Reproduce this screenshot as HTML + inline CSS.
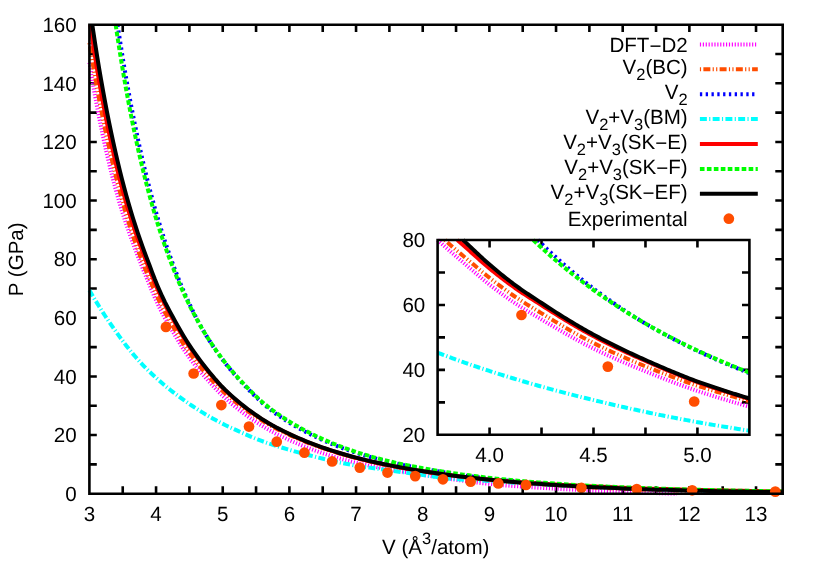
<!DOCTYPE html>
<html><head><meta charset="utf-8"><title>P-V equation of state</title>
<style>html,body{margin:0;padding:0;background:#fff}svg{display:block;will-change:transform}</style>
</head><body>
<svg width="830" height="581" viewBox="0 0 830 581" font-family="'Liberation Sans', sans-serif" font-size="20.55" fill="#000" text-rendering="geometricPrecision">
<rect width="830" height="581" fill="#fff"/>
<path d="M122.73,493.70 v-7.40 M122.73,24.70 v7.40 M156.06,493.70 v-7.40 M156.06,24.70 v7.40 M189.40,493.70 v-7.40 M189.40,24.70 v7.40 M222.73,493.70 v-7.40 M222.73,24.70 v7.40 M256.06,493.70 v-7.40 M256.06,24.70 v7.40 M289.39,493.70 v-7.40 M289.39,24.70 v7.40 M322.72,493.70 v-7.40 M322.72,24.70 v7.40 M356.05,493.70 v-7.40 M356.05,24.70 v7.40 M389.39,493.70 v-7.40 M389.39,24.70 v7.40 M422.72,493.70 v-7.40 M422.72,24.70 v7.40 M456.05,493.70 v-7.40 M456.05,24.70 v7.40 M489.38,493.70 v-7.40 M489.38,24.70 v7.40 M522.71,493.70 v-7.40 M522.71,24.70 v7.40 M556.04,493.70 v-7.40 M556.04,24.70 v7.40 M589.38,493.70 v-7.40 M589.38,24.70 v7.40 M622.71,493.70 v-7.40 M622.71,24.70 v7.40 M656.04,493.70 v-7.40 M656.04,24.70 v7.40 M689.37,493.70 v-7.40 M689.37,24.70 v7.40 M722.70,493.70 v-7.40 M722.70,24.70 v7.40 M756.03,493.70 v-7.40 M756.03,24.70 v7.40 M89.40,464.39 h7.40 M782.70,464.39 h-7.40 M89.40,435.07 h7.40 M782.70,435.07 h-7.40 M89.40,405.76 h7.40 M782.70,405.76 h-7.40 M89.40,376.45 h7.40 M782.70,376.45 h-7.40 M89.40,347.14 h7.40 M782.70,347.14 h-7.40 M89.40,317.82 h7.40 M782.70,317.82 h-7.40 M89.40,288.51 h7.40 M782.70,288.51 h-7.40 M89.40,259.20 h7.40 M782.70,259.20 h-7.40 M89.40,229.89 h7.40 M782.70,229.89 h-7.40 M89.40,200.57 h7.40 M782.70,200.57 h-7.40 M89.40,171.26 h7.40 M782.70,171.26 h-7.40 M89.40,141.95 h7.40 M782.70,141.95 h-7.40 M89.40,112.64 h7.40 M782.70,112.64 h-7.40 M89.40,83.32 h7.40 M782.70,83.32 h-7.40 M89.40,54.01 h7.40 M782.70,54.01 h-7.40 " stroke="#000" stroke-width="2.60" fill="none"/>
<text x="89.40" y="521.20" text-anchor="middle">3</text>
<text x="156.06" y="521.20" text-anchor="middle">4</text>
<text x="222.73" y="521.20" text-anchor="middle">5</text>
<text x="289.39" y="521.20" text-anchor="middle">6</text>
<text x="356.05" y="521.20" text-anchor="middle">7</text>
<text x="422.72" y="521.20" text-anchor="middle">8</text>
<text x="489.38" y="521.20" text-anchor="middle">9</text>
<text x="556.04" y="521.20" text-anchor="middle">10</text>
<text x="622.71" y="521.20" text-anchor="middle">11</text>
<text x="689.37" y="521.20" text-anchor="middle">12</text>
<text x="756.03" y="521.20" text-anchor="middle">13</text>
<text x="76.70" y="500.90" text-anchor="end">0</text>
<text x="76.70" y="442.27" text-anchor="end">20</text>
<text x="76.70" y="383.65" text-anchor="end">40</text>
<text x="76.70" y="325.02" text-anchor="end">60</text>
<text x="76.70" y="266.40" text-anchor="end">80</text>
<text x="76.70" y="207.77" text-anchor="end">100</text>
<text x="76.70" y="149.15" text-anchor="end">120</text>
<text x="76.70" y="90.52" text-anchor="end">140</text>
<text x="76.70" y="31.90" text-anchor="end">160</text>
<text transform="translate(23.3,259.3) rotate(-90)" text-anchor="middle">P (GPa)</text>
<text x="435.8" y="554" text-anchor="middle">V (Å<tspan font-size="16.44" dy="-10.2">3</tspan><tspan dy="10.2">/atom)</tspan></text>
<path d="M89.40,62.61 L91.29,74.23 L93.20,85.47 L95.13,96.36 L97.07,106.90 L99.04,117.11 L101.02,127.00 L103.02,136.60 L105.04,145.90 L107.08,154.92 L109.14,163.67 L111.22,172.16 L113.31,180.41 L115.43,188.41 L117.57,196.12 L119.73,203.58 L121.91,210.80 L124.10,217.79 L126.32,224.53 L128.56,231.06 L130.83,237.42 L133.11,243.66 L135.41,249.81 L137.74,255.89 L140.09,261.88 L142.46,267.85 L144.85,273.74 L147.27,279.55 L149.71,285.38 L152.17,291.36 L154.65,297.22 L157.16,302.73 L159.70,308.05 L162.25,313.18 L164.83,318.06 L167.44,322.64 L170.07,327.07 L172.72,331.52 L175.40,336.05 L178.10,340.53 L180.83,344.94 L183.59,349.25 L186.37,353.42 L189.18,357.43 L192.02,361.26 L194.88,364.96 L197.77,368.55 L200.68,372.04 L203.63,375.46 L206.60,378.83 L209.60,382.19 L212.63,385.51 L215.68,388.78 L218.77,391.96 L221.88,395.03 L225.03,397.94 L228.20,400.75 L231.41,403.49 L234.64,406.18 L237.91,408.82 L241.20,411.41 L244.53,413.93 L247.89,416.38 L251.28,418.77 L254.70,421.09 L258.15,423.36 L261.64,425.56 L265.16,427.70 L268.72,429.78 L272.30,431.78 L275.92,433.68 L279.58,435.50 L283.27,437.26 L286.99,438.99 L290.75,440.70 L294.55,442.38 L298.38,444.01 L302.25,445.61 L306.15,447.16 L310.09,448.67 L314.07,450.14 L318.09,451.57 L322.14,452.97 L326.24,454.32 L330.37,455.64 L334.54,456.92 L338.75,458.16 L343.00,459.36 L347.29,460.53 L351.62,461.66 L355.99,462.75 L360.40,463.80 L364.85,464.79 L369.35,465.74 L373.89,466.65 L378.47,467.52 L383.10,468.36 L387.77,469.18 L392.48,469.98 L397.24,470.76 L402.04,471.54 L406.89,472.31 L411.78,473.09 L416.72,473.87 L421.71,474.67 L426.74,475.47 L431.82,476.26 L436.95,477.04 L442.13,477.81 L447.36,478.55 L452.64,479.28 L457.96,480.00 L463.34,480.73 L468.77,481.46 L474.25,482.18 L479.78,482.88 L485.36,483.52 L491.00,484.11 L496.69,484.64 L502.43,485.14 L508.23,485.61 L514.08,486.05 L519.99,486.47 L525.95,486.87 L531.97,487.26 L538.05,487.63 L544.18,488.00 L550.37,488.37 L556.63,488.75 L562.94,489.11 L569.31,489.47 L575.74,489.81 L582.23,490.14 L588.78,490.46 L595.39,490.77 L602.07,491.07 L608.81,491.36 L615.61,491.64 L622.48,491.92 L629.41,492.19 L636.41,492.45 L643.48,492.69 L650.61,492.93 L657.81,493.16 L665.07,493.37 L672.41,493.58 L676.77,493.70" stroke="#ff00ff" stroke-width="4.00" fill="none" stroke-dasharray="1.16,1.74"/>
<path d="M89.40,42.99 L91.29,54.76 L93.20,66.22 L95.13,77.38 L97.07,88.25 L99.04,98.84 L101.02,109.16 L103.02,119.22 L105.04,129.03 L107.08,138.59 L109.14,147.92 L111.22,157.02 L113.31,165.89 L115.43,174.55 L117.57,183.00 L119.73,191.26 L121.91,199.34 L124.10,207.22 L126.32,214.83 L128.56,222.20 L130.83,229.33 L133.11,236.26 L135.41,242.99 L137.74,249.53 L140.09,255.84 L142.46,261.99 L144.85,267.93 L147.27,273.67 L149.71,279.38 L152.17,285.25 L154.65,291.06 L157.16,296.61 L159.70,302.01 L162.25,307.23 L164.83,312.21 L167.44,316.90 L170.07,321.44 L172.72,325.99 L175.40,330.61 L178.10,335.19 L180.83,339.69 L183.59,344.09 L186.37,348.35 L189.18,352.45 L192.02,356.38 L194.88,360.17 L197.77,363.85 L200.68,367.42 L203.63,370.90 L206.60,374.29 L209.60,377.65 L212.63,380.95 L215.68,384.19 L218.77,387.33 L221.88,390.35 L225.03,393.20 L228.20,395.95 L231.41,398.63 L234.64,401.26 L237.91,403.85 L241.20,406.40 L244.53,408.88 L247.89,411.31 L251.28,413.67 L254.70,415.98 L258.15,418.22 L261.64,420.41 L265.16,422.54 L268.72,424.62 L272.30,426.61 L275.92,428.51 L279.58,430.34 L283.27,432.11 L286.99,433.85 L290.75,435.58 L294.55,437.27 L298.38,438.92 L302.25,440.52 L306.15,442.08 L310.09,443.60 L314.07,445.08 L318.09,446.53 L322.14,447.94 L326.24,449.31 L330.37,450.65 L334.54,451.96 L338.75,453.24 L343.00,454.49 L347.29,455.71 L351.62,456.90 L355.99,458.07 L360.40,459.20 L364.85,460.30 L369.35,461.37 L373.89,462.41 L378.47,463.42 L383.10,464.39 L387.77,465.34 L392.48,466.27 L397.24,467.17 L402.04,468.05 L406.89,468.91 L411.78,469.75 L416.72,470.58 L421.71,471.39 L426.74,472.19 L431.82,472.96 L436.95,473.72 L442.13,474.45 L447.36,475.17 L452.64,475.86 L457.96,476.54 L463.34,477.19 L468.77,477.83 L474.25,478.45 L479.78,479.05 L485.36,479.64 L491.00,480.20 L496.69,480.75 L502.43,481.29 L508.23,481.81 L514.08,482.31 L519.99,482.80 L525.95,483.27 L531.97,483.72 L538.05,484.17 L544.18,484.59 L550.37,485.01 L556.63,485.41 L562.94,485.79 L569.31,486.17 L575.74,486.53 L582.23,486.87 L588.78,487.21 L595.39,487.53 L602.07,487.84 L608.81,488.14 L615.61,488.43 L622.48,488.71 L629.41,488.98 L636.41,489.23 L643.48,489.48 L650.61,489.71 L657.81,489.94 L665.07,490.16 L672.41,490.36 L679.81,490.56 L687.29,490.75 L694.83,490.93 L702.45,491.11 L710.14,491.27 L717.90,491.43 L725.74,491.58 L733.65,491.72 L741.63,491.86 L749.69,491.99 L757.83,492.11 L766.04,492.23 L774.33,492.34 L782.70,492.45" stroke="#ff4d00" stroke-width="4.00" fill="none" stroke-dasharray="1.16,2.32,6.96,2.32,1.16,2.32"/>
<path d="M117.57,24.70 L119.73,38.91 L121.91,52.71 L124.10,66.08 L126.32,79.04 L128.56,91.60 L130.83,103.79 L133.11,115.60 L135.41,127.06 L137.74,138.17 L140.09,148.96 L142.46,159.42 L144.85,169.58 L147.27,179.44 L149.71,189.00 L152.17,198.29 L154.65,207.31 L157.16,216.07 L159.70,224.57 L162.25,232.82 L164.83,240.84 L167.44,248.63 L170.07,256.19 L172.72,263.54 L175.40,270.69 L178.10,277.64 L180.83,284.39 L183.59,290.93 L186.37,297.24 L189.18,303.34 L192.02,309.27 L194.88,315.02 L197.77,320.59 L200.68,325.97 L203.63,331.14 L206.60,336.12 L209.60,340.92 L212.63,345.58 L215.68,350.10 L218.77,354.49 L221.88,358.74 L225.03,362.87 L228.20,366.88 L231.41,370.78 L234.64,374.57 L237.91,378.25 L241.20,381.85 L244.53,385.42 L247.89,388.96 L251.28,392.44 L254.70,395.84 L258.15,399.15 L261.64,402.35 L265.16,405.42 L268.72,408.33 L272.30,411.10 L275.92,413.77 L279.58,416.35 L283.27,418.84 L286.99,421.24 L290.75,423.56 L294.55,425.81 L298.38,428.00 L302.25,430.13 L306.15,432.20 L310.09,434.22 L314.07,436.17 L318.09,438.06 L322.14,439.90 L326.24,441.68 L330.37,443.41 L334.54,445.09 L338.75,446.72 L343.00,448.30 L347.29,449.83 L351.62,451.32 L355.99,452.76 L360.40,454.15 L364.85,455.50 L369.35,456.79 L373.89,458.04 L378.47,459.25 L383.10,460.41 L387.77,461.54 L392.48,462.62 L397.24,463.67 L402.04,464.69 L406.89,465.68 L411.78,466.64 L416.72,467.58 L421.71,468.50 L426.74,469.40 L431.82,470.29 L436.95,471.17 L442.13,472.04 L447.36,472.89 L452.64,473.73 L457.96,474.55 L463.34,475.36 L468.77,476.13 L474.25,476.87 L479.78,477.58 L485.36,478.26 L491.00,478.89 L496.69,479.51 L502.43,480.10 L508.23,480.67 L514.08,481.22 L519.99,481.76 L525.95,482.27 L531.97,482.77 L538.05,483.25 L544.18,483.72 L550.37,484.17 L556.63,484.60 L562.94,485.02 L569.31,485.42 L575.74,485.81 L582.23,486.18 L588.78,486.54 L595.39,486.89 L602.07,487.22 L608.81,487.54 L615.61,487.85 L622.48,488.15 L629.41,488.43 L636.41,488.71 L643.48,488.97 L650.61,489.23 L657.81,489.47 L665.07,489.71 L672.41,489.93 L679.81,490.15 L687.29,490.36 L694.83,490.56 L702.45,490.75 L710.14,490.93 L717.90,491.11 L725.74,491.28 L733.65,491.44 L741.63,491.59 L749.69,491.74 L757.83,491.88 L766.04,492.02 L774.33,492.15 L782.70,492.27" stroke="#0000ff" stroke-width="4.00" fill="none" stroke-dasharray="2.32,3.48"/>
<path d="M89.40,290.15 L91.29,293.42 L93.20,296.68 L95.13,299.91 L97.07,303.11 L99.04,306.30 L101.02,309.46 L103.02,312.60 L105.04,315.72 L107.08,318.81 L109.14,321.88 L111.22,324.92 L113.31,327.94 L115.43,330.94 L117.57,333.93 L119.73,336.91 L121.91,339.86 L124.10,342.79 L126.32,345.69 L128.56,348.54 L130.83,351.36 L133.11,354.12 L135.41,356.83 L137.74,359.48 L140.09,362.07 L142.46,364.59 L144.85,367.06 L147.27,369.48 L149.71,371.86 L152.17,374.21 L154.65,376.52 L157.16,378.81 L159.70,381.06 L162.25,383.27 L164.83,385.45 L167.44,387.61 L170.07,389.73 L172.72,391.83 L175.40,393.89 L178.10,395.93 L180.83,397.94 L183.59,399.92 L186.37,401.88 L189.18,403.82 L192.02,405.73 L194.88,407.63 L197.77,409.51 L200.68,411.35 L203.63,413.17 L206.60,414.95 L209.60,416.70 L212.63,418.43 L215.68,420.12 L218.77,421.78 L221.88,423.40 L225.03,424.97 L228.20,426.49 L231.41,427.97 L234.64,429.44 L237.91,430.91 L241.20,432.39 L244.53,433.87 L247.89,435.35 L251.28,436.82 L254.70,438.25 L258.15,439.63 L261.64,440.97 L265.16,442.24 L268.72,443.46 L272.30,444.64 L275.92,445.79 L279.58,446.92 L283.27,448.03 L286.99,449.14 L290.75,450.24 L294.55,451.32 L298.38,452.39 L302.25,453.45 L306.15,454.49 L310.09,455.51 L314.07,456.52 L318.09,457.51 L322.14,458.48 L326.24,459.44 L330.37,460.39 L334.54,461.34 L338.75,462.27 L343.00,463.17 L347.29,464.03 L351.62,464.84 L355.99,465.61 L360.40,466.32 L364.85,466.98 L369.35,467.61 L373.89,468.22 L378.47,468.82 L383.10,469.44 L387.77,470.07 L392.48,470.74 L397.24,471.42 L402.04,472.11 L406.89,472.80 L411.78,473.49 L416.72,474.17 L421.71,474.85 L426.74,475.56 L431.82,476.30 L436.95,477.05 L442.13,477.76 L447.36,478.40 L452.64,478.94 L457.96,479.35 L463.34,479.68 L468.77,479.96 L474.25,480.21 L479.78,480.46 L485.36,480.74 L491.00,481.07 L496.69,481.46 L502.43,481.88 L508.23,482.31 L514.08,482.74 L519.99,483.14 L525.95,483.51 L531.97,483.87 L538.05,484.21 L544.18,484.54 L550.37,484.87 L556.63,485.19 L562.94,485.50 L569.31,485.81 L575.74,486.10 L582.23,486.39 L588.78,486.67 L595.39,486.95 L602.07,487.22 L608.81,487.48 L615.61,487.74 L622.48,487.99 L629.41,488.23 L636.41,488.47 L643.48,488.69 L650.61,488.91 L657.81,489.13 L665.07,489.34 L672.41,489.55 L679.81,489.77 L687.29,489.99 L694.83,490.21 L702.45,490.44 L710.14,490.67 L717.90,490.89 L725.74,491.11 L733.65,491.31 L741.63,491.50 L749.69,491.68 L757.83,491.83 L766.04,491.98 L774.33,492.11 L782.70,492.24" stroke="#00ffff" stroke-width="4.00" fill="none" stroke-dasharray="6.96,2.32,1.16,2.32"/>
<path d="M90.23,24.70 L91.29,32.07 L93.20,44.80 L95.13,57.14 L97.07,69.10 L99.04,80.70 L101.02,91.94 L103.02,102.84 L105.04,113.40 L107.08,123.65 L109.14,133.59 L111.22,143.24 L113.31,152.61 L115.43,161.71 L117.57,170.55 L119.73,179.14 L121.91,187.50 L124.10,195.59 L126.32,203.38 L128.56,210.89 L130.83,218.15 L133.11,225.20 L135.41,232.06 L137.74,238.75 L140.09,245.25 L142.46,251.62 L144.85,257.86 L147.27,263.97 L149.71,270.07 L152.17,276.32 L154.65,282.45 L157.16,288.24 L159.70,293.83 L162.25,299.23 L164.83,304.40 L167.44,309.27 L170.07,313.98 L172.72,318.74 L175.40,323.55 L178.10,328.31 L180.83,332.99 L183.59,337.57 L186.37,342.01 L189.18,346.30 L192.02,350.43 L194.88,354.41 L197.77,358.29 L200.68,362.09 L203.63,365.82 L206.60,369.51 L209.60,373.16 L212.63,376.79 L215.68,380.34 L218.77,383.78 L221.88,387.07 L225.03,390.19 L228.20,393.19 L231.41,396.12 L234.64,398.97 L237.91,401.74 L241.20,404.45 L244.53,407.08 L247.89,409.63 L251.28,412.12 L254.70,414.53 L258.15,416.88 L261.64,419.16 L265.16,421.38 L268.72,423.54 L272.30,425.61 L275.92,427.57 L279.58,429.46 L283.27,431.29 L286.99,433.09 L290.75,434.87 L294.55,436.61 L298.38,438.31 L302.25,439.96 L306.15,441.56 L310.09,443.13 L314.07,444.65 L318.09,446.13 L322.14,447.58 L326.24,448.99 L330.37,450.36 L334.54,451.69 L338.75,452.99 L343.00,454.25 L347.29,455.48 L351.62,456.68 L355.99,457.85 L360.40,458.98 L364.85,460.08 L369.35,461.15 L373.89,462.19 L378.47,463.20 L383.10,464.18 L387.77,465.13 L392.48,466.05 L397.24,466.95 L402.04,467.83 L406.89,468.69 L411.78,469.52 L416.72,470.35 L421.71,471.15 L426.74,471.94 L431.82,472.71 L436.95,473.45 L442.13,474.17 L447.36,474.87 L452.64,475.55 L457.96,476.20 L463.34,476.83 L468.77,477.45 L474.25,478.04 L479.78,478.62 L485.36,479.18 L491.00,479.72 L496.69,480.24 L502.43,480.75 L508.23,481.24 L514.08,481.72 L519.99,482.18 L525.95,482.63 L531.97,483.06 L538.05,483.47 L544.18,483.86 L550.37,484.24 L556.63,484.61 L562.94,484.96 L569.31,485.30 L575.74,485.62 L582.23,485.94 L588.78,486.25 L595.39,486.54 L602.07,486.83 L608.81,487.12 L615.61,487.40 L622.48,487.67 L629.41,487.94 L636.41,488.20 L643.48,488.44 L650.61,488.68 L657.81,488.91 L665.07,489.12 L672.41,489.33 L679.81,489.53 L687.29,489.72 L694.83,489.90 L702.45,490.08 L710.14,490.24 L717.90,490.40 L725.74,490.55 L733.65,490.70 L741.63,490.83 L749.69,490.96 L757.83,491.09 L766.04,491.21 L774.33,491.32 L782.70,491.42" stroke="#ff0000" stroke-width="4.00" fill="none"/>
<path d="M115.66,24.70 L117.57,37.55 L119.73,51.42 L121.91,64.85 L124.10,77.84 L126.32,90.42 L128.56,102.59 L130.83,114.38 L133.11,125.80 L135.41,136.85 L137.74,147.56 L140.09,157.93 L142.46,167.98 L144.85,177.72 L147.27,187.16 L149.71,196.31 L152.17,205.17 L154.65,213.77 L157.16,222.11 L159.70,230.19 L162.25,238.03 L164.83,245.63 L167.44,253.01 L170.07,260.16 L172.72,267.10 L175.40,273.84 L178.10,280.37 L180.83,286.72 L183.59,292.87 L186.37,298.85 L189.18,304.65 L192.02,310.29 L194.88,315.75 L197.77,321.06 L200.68,326.22 L203.63,331.23 L206.60,336.09 L209.60,340.81 L212.63,345.40 L215.68,349.85 L218.77,354.18 L221.88,358.39 L225.03,362.47 L228.20,366.44 L231.41,370.29 L234.64,374.04 L237.91,377.68 L241.20,381.23 L244.53,384.76 L247.89,388.24 L251.28,391.66 L254.70,395.01 L258.15,398.27 L261.64,401.42 L265.16,404.44 L268.72,407.30 L272.30,410.03 L275.92,412.66 L279.58,415.21 L283.27,417.68 L286.99,420.07 L290.75,422.39 L294.55,424.64 L298.38,426.84 L302.25,428.98 L306.15,431.06 L310.09,433.09 L314.07,435.06 L318.09,436.97 L322.14,438.83 L326.24,440.63 L330.37,442.39 L334.54,444.09 L338.75,445.74 L343.00,447.35 L347.29,448.90 L351.62,450.42 L355.99,451.88 L360.40,453.30 L364.85,454.68 L369.35,456.01 L373.89,457.30 L378.47,458.54 L383.10,459.75 L387.77,460.91 L392.48,462.03 L397.24,463.12 L402.04,464.17 L406.89,465.19 L411.78,466.18 L416.72,467.13 L421.71,468.06 L426.74,468.96 L431.82,469.83 L436.95,470.68 L442.13,471.51 L447.36,472.31 L452.64,473.10 L457.96,473.87 L463.34,474.62 L468.77,475.35 L474.25,476.05 L479.78,476.72 L485.36,477.38 L491.00,478.01 L496.69,478.63 L502.43,479.22 L508.23,479.79 L514.08,480.34 L519.99,480.88 L525.95,481.40 L531.97,481.89 L538.05,482.37 L544.18,482.84 L550.37,483.29 L556.63,483.72 L562.94,484.14 L569.31,484.54 L575.74,484.93 L582.23,485.30 L588.78,485.66 L595.39,486.01 L602.07,486.34 L608.81,486.66 L615.61,486.97 L622.48,487.27 L629.41,487.55 L636.41,487.83 L643.48,488.09 L650.61,488.35 L657.81,488.59 L665.07,488.83 L672.41,489.05 L679.81,489.27 L687.29,489.48 L694.83,489.68 L702.45,489.87 L710.14,490.05 L717.90,490.23 L725.74,490.40 L733.65,490.56 L741.63,490.71 L749.69,490.86 L757.83,491.00 L766.04,491.14 L774.33,491.27 L782.70,491.39" stroke="#00ff00" stroke-width="4.00" fill="none" stroke-dasharray="4.64,2.32"/>
<path d="M92.30,24.70 L93.20,30.87 L95.13,43.54 L97.07,55.85 L99.04,67.80 L101.02,79.41 L103.02,90.68 L105.04,101.63 L107.08,112.27 L109.14,122.61 L111.22,132.66 L113.31,142.43 L115.43,151.93 L117.57,161.17 L119.73,170.15 L121.91,178.89 L124.10,187.37 L126.32,195.53 L128.56,203.42 L130.83,211.06 L133.11,218.49 L135.41,225.73 L137.74,232.79 L140.09,239.65 L142.46,246.38 L144.85,252.96 L147.27,259.40 L149.71,265.83 L152.17,272.38 L154.65,278.81 L157.16,284.89 L159.70,290.78 L162.25,296.45 L164.83,301.86 L167.44,306.95 L170.07,311.84 L172.72,316.74 L175.40,321.66 L178.10,326.51 L180.83,331.27 L183.59,335.93 L186.37,340.46 L189.18,344.84 L192.02,349.08 L194.88,353.20 L197.77,357.21 L200.68,361.12 L203.63,364.94 L206.60,368.68 L209.60,372.40 L212.63,376.07 L215.68,379.67 L218.77,383.15 L221.88,386.49 L225.03,389.64 L228.20,392.67 L231.41,395.63 L234.64,398.50 L237.91,401.30 L241.20,404.02 L244.53,406.66 L247.89,409.23 L251.28,411.73 L254.70,414.16 L258.15,416.52 L261.64,418.81 L265.16,421.04 L268.72,423.20 L272.30,425.28 L275.92,427.26 L279.58,429.15 L283.27,430.99 L286.99,432.79 L290.75,434.58 L294.55,436.33 L298.38,438.03 L302.25,439.69 L306.15,441.30 L310.09,442.87 L314.07,444.39 L318.09,445.88 L322.14,447.33 L326.24,448.74 L330.37,450.11 L334.54,451.45 L338.75,452.75 L343.00,454.02 L347.29,455.26 L351.62,456.46 L355.99,457.63 L360.40,458.76 L364.85,459.87 L369.35,460.94 L373.89,461.99 L378.47,463.00 L383.10,463.98 L387.77,464.93 L392.48,465.86 L397.24,466.77 L402.04,467.65 L406.89,468.51 L411.78,469.36 L416.72,470.19 L421.71,471.01 L426.74,471.81 L431.82,472.58 L436.95,473.34 L442.13,474.08 L447.36,474.80 L452.64,475.49 L457.96,476.17 L463.34,476.83 L468.77,477.47 L474.25,478.09 L479.78,478.70 L485.36,479.29 L491.00,479.86 L496.69,480.41 L502.43,480.95 L508.23,481.47 L514.08,481.97 L519.99,482.46 L525.95,482.94 L531.97,483.39 L538.05,483.84 L544.18,484.27 L550.37,484.68 L556.63,485.09 L562.94,485.47 L569.31,485.85 L575.74,486.21 L582.23,486.56 L588.78,486.90 L595.39,487.22 L602.07,487.53 L608.81,487.83 L615.61,488.12 L622.48,488.40 L629.41,488.67 L636.41,488.93 L643.48,489.17 L650.61,489.41 L657.81,489.64 L665.07,489.86 L672.41,490.07 L679.81,490.26 L687.29,490.46 L694.83,490.64 L702.45,490.81 L710.14,490.98 L717.90,491.14 L725.74,491.29 L733.65,491.43 L741.63,491.57 L749.69,491.70 L757.83,491.82 L766.04,491.94 L774.33,492.05 L782.70,492.16" stroke="#000000" stroke-width="4.00" fill="none"/>
<circle cx="165.93" cy="326.91" r="5.35" fill="#ff4d00"/>
<circle cx="193.63" cy="373.52" r="5.35" fill="#ff4d00"/>
<circle cx="221.33" cy="405.03" r="5.35" fill="#ff4d00"/>
<circle cx="249.03" cy="426.57" r="5.35" fill="#ff4d00"/>
<circle cx="276.72" cy="441.67" r="5.35" fill="#ff4d00"/>
<circle cx="304.42" cy="452.66" r="5.35" fill="#ff4d00"/>
<circle cx="332.12" cy="461.46" r="5.35" fill="#ff4d00"/>
<circle cx="359.82" cy="467.61" r="5.35" fill="#ff4d00"/>
<circle cx="387.52" cy="472.59" r="5.35" fill="#ff4d00"/>
<circle cx="415.22" cy="476.11" r="5.35" fill="#ff4d00"/>
<circle cx="442.92" cy="479.34" r="5.35" fill="#ff4d00"/>
<circle cx="470.62" cy="481.68" r="5.35" fill="#ff4d00"/>
<circle cx="498.31" cy="483.44" r="5.35" fill="#ff4d00"/>
<circle cx="526.01" cy="484.91" r="5.35" fill="#ff4d00"/>
<circle cx="581.41" cy="487.84" r="5.35" fill="#ff4d00"/>
<circle cx="636.81" cy="489.01" r="5.35" fill="#ff4d00"/>
<circle cx="692.20" cy="490.33" r="5.35" fill="#ff4d00"/>
<circle cx="775.30" cy="491.65" r="5.35" fill="#ff4d00"/>
<path d="M89.40,493.70 L782.70,493.70 L782.70,24.70 L89.40,24.70 Z" stroke="#000" stroke-width="2.60" fill="none" stroke-linejoin="miter"/>
<path d="M699.90,44.40 H757.80" stroke="#ff00ff" stroke-width="4.00" fill="none" stroke-dasharray="1.16,1.74"/>
<text x="687.70" y="51.50" text-anchor="end">DFT<tspan dy="1.70">−</tspan><tspan dy="-1.70">D2</tspan></text>
<path d="M699.90,69.30 H757.80" stroke="#ff4d00" stroke-width="4.00" fill="none" stroke-dasharray="1.16,2.32,6.96,2.32,1.16,2.32"/>
<text x="687.70" y="74.05" text-anchor="end">V<tspan font-size="16.44" dy="6.10">2</tspan><tspan dy="-6.10">(BC)</tspan></text>
<path d="M699.90,94.20 H757.80" stroke="#0000ff" stroke-width="4.00" fill="none" stroke-dasharray="2.32,3.48"/>
<text x="687.70" y="98.95" text-anchor="end">V<tspan font-size="16.44" dy="6.10">2</tspan></text>
<path d="M699.90,119.10 H757.80" stroke="#00ffff" stroke-width="4.00" fill="none" stroke-dasharray="6.96,2.32,1.16,2.32"/>
<text x="687.70" y="123.85" text-anchor="end">V<tspan font-size="16.44" dy="6.10">2</tspan><tspan dy="-6.10">+</tspan>V<tspan font-size="16.44" dy="6.10">3</tspan><tspan dy="-6.10">(BM)</tspan></text>
<path d="M699.90,144.00 H757.80" stroke="#ff0000" stroke-width="4.00" fill="none"/>
<text x="687.70" y="148.75" text-anchor="end">V<tspan font-size="16.44" dy="6.10">2</tspan><tspan dy="-6.10">+</tspan>V<tspan font-size="16.44" dy="6.10">3</tspan><tspan dy="-6.10">(SK</tspan><tspan dy="1.70">−</tspan><tspan dy="-1.70">E)</tspan></text>
<path d="M699.90,168.90 H757.80" stroke="#00ff00" stroke-width="4.00" fill="none" stroke-dasharray="4.64,2.32"/>
<text x="687.70" y="173.65" text-anchor="end">V<tspan font-size="16.44" dy="6.10">2</tspan><tspan dy="-6.10">+</tspan>V<tspan font-size="16.44" dy="6.10">3</tspan><tspan dy="-6.10">(SK</tspan><tspan dy="1.70">−</tspan><tspan dy="-1.70">F)</tspan></text>
<path d="M699.90,193.80 H757.80" stroke="#000000" stroke-width="4.00" fill="none"/>
<text x="687.70" y="198.55" text-anchor="end">V<tspan font-size="16.44" dy="6.10">2</tspan><tspan dy="-6.10">+</tspan>V<tspan font-size="16.44" dy="6.10">3</tspan><tspan dy="-6.10">(SK</tspan><tspan dy="1.70">−</tspan><tspan dy="-1.70">EF)</tspan></text>
<circle cx="728.85" cy="218.70" r="5.35" fill="#ff4d00"/>
<text x="687.70" y="225.80" text-anchor="end">Experimental</text>
<rect x="437.60" y="240.00" width="311.80" height="194.80" fill="#fff"/>
<path d="M489.57,434.80 v-7.40 M489.57,240.00 v7.40 M541.53,434.80 v-7.40 M541.53,240.00 v7.40 M593.50,434.80 v-7.40 M593.50,240.00 v7.40 M645.47,434.80 v-7.40 M645.47,240.00 v7.40 M697.43,434.80 v-7.40 M697.43,240.00 v7.40 M437.60,402.33 h7.40 M749.40,402.33 h-7.40 M437.60,369.87 h7.40 M749.40,369.87 h-7.40 M437.60,337.40 h7.40 M749.40,337.40 h-7.40 M437.60,304.93 h7.40 M749.40,304.93 h-7.40 M437.60,272.47 h7.40 M749.40,272.47 h-7.40 " stroke="#000" stroke-width="2.60" fill="none"/>
<text x="489.57" y="462.20" text-anchor="middle">4.0</text>
<text x="593.50" y="462.20" text-anchor="middle">4.5</text>
<text x="697.43" y="462.20" text-anchor="middle">5.0</text>
<text x="425.30" y="442.00" text-anchor="end">20</text>
<text x="425.30" y="377.07" text-anchor="end">40</text>
<text x="425.30" y="312.13" text-anchor="end">60</text>
<text x="425.30" y="247.20" text-anchor="end">80</text>
<path d="M437.61,240.00 L439.25,241.49 L440.91,242.98 L442.56,244.47 L444.22,245.95 L445.89,247.44 L447.56,248.92 L449.23,250.41 L450.91,251.88 L452.59,253.35 L454.27,254.82 L455.95,256.28 L457.64,257.73 L459.34,259.18 L461.03,260.63 L462.74,262.07 L464.44,263.51 L466.15,264.95 L467.86,266.40 L469.57,267.86 L471.29,269.34 L473.02,270.83 L474.74,272.32 L476.47,273.81 L478.20,275.31 L479.94,276.79 L481.68,278.27 L483.43,279.74 L485.17,281.18 L486.93,282.61 L488.68,284.00 L490.44,285.38 L492.20,286.74 L493.97,288.09 L495.74,289.43 L497.52,290.77 L499.29,292.09 L501.08,293.41 L502.86,294.71 L504.65,296.01 L506.44,297.29 L508.24,298.56 L510.04,299.81 L511.85,301.06 L513.65,302.29 L515.47,303.50 L517.28,304.70 L519.10,305.87 L520.93,307.03 L522.75,308.17 L524.59,309.30 L526.42,310.42 L528.26,311.53 L530.10,312.63 L531.95,313.73 L533.80,314.83 L535.66,315.93 L537.52,317.03 L539.38,318.14 L541.25,319.26 L543.12,320.39 L544.99,321.52 L546.87,322.64 L548.75,323.77 L550.64,324.90 L552.53,326.02 L554.43,327.14 L556.32,328.26 L558.23,329.37 L560.13,330.48 L562.04,331.59 L563.96,332.69 L565.88,333.79 L567.80,334.88 L569.73,335.97 L571.66,337.05 L573.59,338.12 L575.53,339.18 L577.48,340.24 L579.43,341.29 L581.38,342.34 L583.33,343.37 L585.29,344.40 L587.26,345.41 L589.23,346.42 L591.20,347.41 L593.17,348.40 L595.16,349.37 L597.14,350.34 L599.13,351.30 L601.12,352.25 L603.12,353.19 L605.12,354.12 L607.13,355.05 L609.14,355.97 L611.16,356.88 L613.17,357.78 L615.20,358.68 L617.23,359.58 L619.26,360.46 L621.29,361.35 L623.33,362.22 L625.38,363.10 L627.43,363.97 L629.48,364.83 L631.54,365.69 L633.60,366.55 L635.67,367.40 L637.74,368.25 L639.82,369.09 L641.89,369.94 L643.98,370.78 L646.07,371.62 L648.16,372.46 L650.26,373.29 L652.36,374.13 L654.47,374.97 L656.58,375.80 L658.69,376.64 L660.81,377.47 L662.94,378.30 L665.07,379.13 L667.20,379.95 L669.34,380.77 L671.48,381.59 L673.63,382.40 L675.78,383.21 L677.94,384.02 L680.10,384.82 L682.26,385.61 L684.43,386.40 L686.61,387.18 L688.78,387.96 L690.97,388.73 L693.16,389.49 L695.35,390.24 L697.55,390.98 L699.75,391.72 L701.96,392.44 L704.17,393.16 L706.38,393.87 L708.61,394.57 L710.83,395.28 L713.06,395.97 L715.30,396.67 L717.54,397.36 L719.78,398.05 L722.03,398.73 L724.29,399.41 L726.54,400.09 L728.81,400.77 L731.08,401.44 L733.35,402.11 L735.63,402.77 L737.91,403.43 L740.20,404.09 L742.49,404.75 L744.79,405.40 L747.09,406.06 L749.40,406.70" stroke="#ff00ff" stroke-width="4.00" fill="none" stroke-dasharray="1.16,1.74"/>
<path d="M444.91,240.00 L445.89,240.90 L447.56,242.42 L449.23,243.93 L450.91,245.43 L452.59,246.92 L454.27,248.38 L455.95,249.84 L457.64,251.29 L459.34,252.72 L461.03,254.15 L462.74,255.57 L464.44,256.98 L466.15,258.39 L467.86,259.80 L469.57,261.24 L471.29,262.68 L473.02,264.14 L474.74,265.60 L476.47,267.07 L478.20,268.54 L479.94,270.01 L481.68,271.47 L483.43,272.92 L485.17,274.36 L486.93,275.78 L488.68,277.18 L490.44,278.56 L492.20,279.94 L493.97,281.30 L495.74,282.66 L497.52,284.02 L499.29,285.36 L501.08,286.70 L502.86,288.02 L504.65,289.34 L506.44,290.64 L508.24,291.94 L510.04,293.22 L511.85,294.49 L513.65,295.75 L515.47,296.99 L517.28,298.21 L519.10,299.41 L520.93,300.60 L522.75,301.76 L524.59,302.92 L526.42,304.07 L528.26,305.20 L530.10,306.34 L531.95,307.46 L533.80,308.59 L535.66,309.71 L537.52,310.84 L539.38,311.97 L541.25,313.11 L543.12,314.26 L544.99,315.42 L546.87,316.57 L548.75,317.72 L550.64,318.87 L552.53,320.02 L554.43,321.16 L556.32,322.31 L558.23,323.44 L560.13,324.58 L562.04,325.71 L563.96,326.83 L565.88,327.95 L567.80,329.07 L569.73,330.18 L571.66,331.28 L573.59,332.38 L575.53,333.46 L577.48,334.55 L579.43,335.62 L581.38,336.68 L583.33,337.74 L585.29,338.79 L587.26,339.82 L589.23,340.85 L591.20,341.87 L593.17,342.88 L595.16,343.87 L597.14,344.86 L599.13,345.84 L601.12,346.81 L603.12,347.78 L605.12,348.74 L607.13,349.69 L609.14,350.63 L611.16,351.57 L613.17,352.50 L615.20,353.42 L617.23,354.34 L619.26,355.25 L621.29,356.15 L623.33,357.05 L625.38,357.94 L627.43,358.83 L629.48,359.71 L631.54,360.59 L633.60,361.46 L635.67,362.33 L637.74,363.19 L639.82,364.04 L641.89,364.90 L643.98,365.74 L646.07,366.59 L648.16,367.43 L650.26,368.27 L652.36,369.11 L654.47,369.94 L656.58,370.77 L658.69,371.61 L660.81,372.43 L662.94,373.26 L665.07,374.08 L667.20,374.90 L669.34,375.71 L671.48,376.52 L673.63,377.33 L675.78,378.13 L677.94,378.92 L680.10,379.71 L682.26,380.50 L684.43,381.28 L686.61,382.05 L688.78,382.81 L690.97,383.57 L693.16,384.32 L695.35,385.06 L697.55,385.79 L699.75,386.51 L701.96,387.22 L704.17,387.92 L706.38,388.61 L708.61,389.30 L710.83,389.99 L713.06,390.67 L715.30,391.35 L717.54,392.03 L719.78,392.70 L722.03,393.37 L724.29,394.04 L726.54,394.70 L728.81,395.36 L731.08,396.02 L733.35,396.67 L735.63,397.32 L737.91,397.97 L740.20,398.62 L742.49,399.26 L744.79,399.91 L747.09,400.55 L749.40,401.18" stroke="#ff4d00" stroke-width="4.00" fill="none" stroke-dasharray="1.16,2.32,6.96,2.32,1.16,2.32"/>
<path d="M537.73,240.00 L539.38,241.62 L541.25,243.45 L543.12,245.26 L544.99,247.06 L546.87,248.84 L548.75,250.62 L550.64,252.39 L552.53,254.14 L554.43,255.89 L556.32,257.62 L558.23,259.34 L560.13,261.05 L562.04,262.75 L563.96,264.44 L565.88,266.11 L567.80,267.77 L569.73,269.42 L571.66,271.06 L573.59,272.69 L575.53,274.30 L577.48,275.91 L579.43,277.50 L581.38,279.08 L583.33,280.64 L585.29,282.19 L587.26,283.73 L589.23,285.26 L591.20,286.78 L593.17,288.28 L595.16,289.78 L597.14,291.27 L599.13,292.75 L601.12,294.22 L603.12,295.68 L605.12,297.13 L607.13,298.57 L609.14,299.99 L611.16,301.41 L613.17,302.82 L615.20,304.22 L617.23,305.61 L619.26,306.99 L621.29,308.36 L623.33,309.71 L625.38,311.06 L627.43,312.40 L629.48,313.72 L631.54,315.03 L633.60,316.33 L635.67,317.62 L637.74,318.90 L639.82,320.17 L641.89,321.42 L643.98,322.67 L646.07,323.90 L648.16,325.12 L650.26,326.33 L652.36,327.54 L654.47,328.73 L656.58,329.92 L658.69,331.10 L660.81,332.27 L662.94,333.44 L665.07,334.59 L667.20,335.74 L669.34,336.88 L671.48,338.01 L673.63,339.14 L675.78,340.25 L677.94,341.36 L680.10,342.46 L682.26,343.56 L684.43,344.64 L686.61,345.72 L688.78,346.80 L690.97,347.86 L693.16,348.92 L695.35,349.97 L697.55,351.01 L699.75,352.05 L701.96,353.08 L704.17,354.10 L706.38,355.12 L708.61,356.13 L710.83,357.13 L713.06,358.13 L715.30,359.12 L717.54,360.10 L719.78,361.08 L722.03,362.05 L724.29,363.01 L726.54,363.97 L728.81,364.92 L731.08,365.87 L733.35,366.81 L735.63,367.74 L737.91,368.67 L740.20,369.59 L742.49,370.51 L744.79,371.42 L747.09,372.33 L749.40,373.23" stroke="#0000ff" stroke-width="4.00" fill="none" stroke-dasharray="2.32,3.48"/>
<path d="M437.60,352.66 L439.25,353.30 L440.91,353.94 L442.56,354.57 L444.22,355.21 L445.89,355.83 L447.56,356.46 L449.23,357.08 L450.91,357.70 L452.59,358.32 L454.27,358.93 L455.95,359.54 L457.64,360.15 L459.34,360.75 L461.03,361.36 L462.74,361.96 L464.44,362.55 L466.15,363.15 L467.86,363.74 L469.57,364.33 L471.29,364.92 L473.02,365.51 L474.74,366.09 L476.47,366.68 L478.20,367.26 L479.94,367.84 L481.68,368.42 L483.43,368.99 L485.17,369.57 L486.93,370.14 L488.68,370.72 L490.44,371.29 L492.20,371.86 L493.97,372.42 L495.74,372.99 L497.52,373.55 L499.29,374.11 L501.08,374.67 L502.86,375.23 L504.65,375.78 L506.44,376.33 L508.24,376.88 L510.04,377.43 L511.85,377.98 L513.65,378.53 L515.47,379.07 L517.28,379.61 L519.10,380.15 L520.93,380.69 L522.75,381.23 L524.59,381.76 L526.42,382.29 L528.26,382.83 L530.10,383.36 L531.95,383.89 L533.80,384.41 L535.66,384.94 L537.52,385.46 L539.38,385.99 L541.25,386.51 L543.12,387.03 L544.99,387.54 L546.87,388.06 L548.75,388.58 L550.64,389.09 L552.53,389.60 L554.43,390.11 L556.32,390.62 L558.23,391.12 L560.13,391.63 L562.04,392.13 L563.96,392.63 L565.88,393.13 L567.80,393.63 L569.73,394.12 L571.66,394.62 L573.59,395.11 L575.53,395.61 L577.48,396.10 L579.43,396.59 L581.38,397.07 L583.33,397.56 L585.29,398.05 L587.26,398.53 L589.23,399.02 L591.20,399.50 L593.17,399.98 L595.16,400.46 L597.14,400.94 L599.13,401.42 L601.12,401.90 L603.12,402.37 L605.12,402.85 L607.13,403.32 L609.14,403.80 L611.16,404.27 L613.17,404.74 L615.20,405.21 L617.23,405.67 L619.26,406.14 L621.29,406.60 L623.33,407.07 L625.38,407.53 L627.43,407.99 L629.48,408.44 L631.54,408.90 L633.60,409.35 L635.67,409.81 L637.74,410.26 L639.82,410.70 L641.89,411.15 L643.98,411.60 L646.07,412.04 L648.16,412.48 L650.26,412.92 L652.36,413.36 L654.47,413.79 L656.58,414.23 L658.69,414.67 L660.81,415.10 L662.94,415.53 L665.07,415.96 L667.20,416.39 L669.34,416.81 L671.48,417.24 L673.63,417.66 L675.78,418.08 L677.94,418.50 L680.10,418.91 L682.26,419.33 L684.43,419.74 L686.61,420.15 L688.78,420.55 L690.97,420.96 L693.16,421.36 L695.35,421.76 L697.55,422.16 L699.75,422.55 L701.96,422.94 L704.17,423.33 L706.38,423.72 L708.61,424.10 L710.83,424.48 L713.06,424.86 L715.30,425.23 L717.54,425.60 L719.78,425.98 L722.03,426.35 L724.29,426.71 L726.54,427.08 L728.81,427.45 L731.08,427.82 L733.35,428.18 L735.63,428.55 L737.91,428.91 L740.20,429.28 L742.49,429.64 L744.79,430.01 L747.09,430.37 L749.40,430.74" stroke="#00ffff" stroke-width="4.00" fill="none" stroke-dasharray="6.96,2.32,1.16,2.32"/>
<path d="M457.39,240.00 L457.64,240.23 L459.34,241.76 L461.03,243.28 L462.74,244.79 L464.44,246.30 L466.15,247.81 L467.86,249.32 L469.57,250.85 L471.29,252.40 L473.02,253.95 L474.74,255.51 L476.47,257.07 L478.20,258.63 L479.94,260.19 L481.68,261.73 L483.43,263.26 L485.17,264.77 L486.93,266.27 L488.68,267.74 L490.44,269.18 L492.20,270.61 L493.97,272.03 L495.74,273.44 L497.52,274.84 L499.29,276.24 L501.08,277.62 L502.86,278.99 L504.65,280.35 L506.44,281.70 L508.24,283.04 L510.04,284.37 L511.85,285.68 L513.65,286.98 L515.47,288.27 L517.28,289.53 L519.10,290.78 L520.93,292.01 L522.75,293.23 L524.59,294.43 L526.42,295.62 L528.26,296.80 L530.10,297.98 L531.95,299.15 L533.80,300.32 L535.66,301.49 L537.52,302.67 L539.38,303.85 L541.25,305.05 L543.12,306.25 L544.99,307.45 L546.87,308.65 L548.75,309.85 L550.64,311.05 L552.53,312.24 L554.43,313.43 L556.32,314.62 L558.23,315.80 L560.13,316.98 L562.04,318.15 L563.96,319.32 L565.88,320.48 L567.80,321.64 L569.73,322.79 L571.66,323.94 L573.59,325.08 L575.53,326.21 L577.48,327.34 L579.43,328.46 L581.38,329.57 L583.33,330.67 L585.29,331.77 L587.26,332.85 L589.23,333.93 L591.20,334.99 L593.17,336.05 L595.16,337.10 L597.14,338.13 L599.13,339.16 L601.12,340.18 L603.12,341.20 L605.12,342.20 L607.13,343.20 L609.14,344.19 L611.16,345.18 L613.17,346.15 L615.20,347.13 L617.23,348.09 L619.26,349.06 L621.29,350.01 L623.33,350.96 L625.38,351.91 L627.43,352.85 L629.48,353.79 L631.54,354.73 L633.60,355.66 L635.67,356.59 L637.74,357.52 L639.82,358.45 L641.89,359.37 L643.98,360.29 L646.07,361.21 L648.16,362.12 L650.26,363.03 L652.36,363.95 L654.47,364.86 L656.58,365.77 L658.69,366.68 L660.81,367.59 L662.94,368.49 L665.07,369.39 L667.20,370.29 L669.34,371.18 L671.48,372.07 L673.63,372.95 L675.78,373.83 L677.94,374.71 L680.10,375.57 L682.26,376.43 L684.43,377.28 L686.61,378.13 L688.78,378.96 L690.97,379.79 L693.16,380.61 L695.35,381.42 L697.55,382.21 L699.75,383.00 L701.96,383.77 L704.17,384.54 L706.38,385.30 L708.61,386.05 L710.83,386.80 L713.06,387.55 L715.30,388.29 L717.54,389.03 L719.78,389.76 L722.03,390.49 L724.29,391.22 L726.54,391.94 L728.81,392.65 L731.08,393.37 L733.35,394.07 L735.63,394.78 L737.91,395.48 L740.20,396.17 L742.49,396.86 L744.79,397.55 L747.09,398.23 L749.40,398.91" stroke="#ff0000" stroke-width="4.00" fill="none"/>
<path d="M533.25,240.00 L533.80,240.52 L535.66,242.28 L537.52,244.02 L539.38,245.75 L541.25,247.47 L543.12,249.18 L544.99,250.87 L546.87,252.56 L548.75,254.23 L550.64,255.89 L552.53,257.55 L554.43,259.18 L556.32,260.81 L558.23,262.43 L560.13,264.04 L562.04,265.63 L563.96,267.22 L565.88,268.79 L567.80,270.36 L569.73,271.91 L571.66,273.45 L573.59,274.99 L575.53,276.51 L577.48,278.02 L579.43,279.53 L581.38,281.02 L583.33,282.50 L585.29,283.97 L587.26,285.44 L589.23,286.89 L591.20,288.33 L593.17,289.77 L595.16,291.19 L597.14,292.60 L599.13,294.01 L601.12,295.41 L603.12,296.79 L605.12,298.17 L607.13,299.54 L609.14,300.90 L611.16,302.25 L613.17,303.59 L615.20,304.92 L617.23,306.25 L619.26,307.56 L621.29,308.87 L623.33,310.17 L625.38,311.46 L627.43,312.74 L629.48,314.01 L631.54,315.27 L633.60,316.53 L635.67,317.78 L637.74,319.02 L639.82,320.25 L641.89,321.47 L643.98,322.68 L646.07,323.89 L648.16,325.09 L650.26,326.28 L652.36,327.47 L654.47,328.64 L656.58,329.81 L658.69,330.97 L660.81,332.12 L662.94,333.27 L665.07,334.41 L667.20,335.54 L669.34,336.66 L671.48,337.77 L673.63,338.88 L675.78,339.98 L677.94,341.08 L680.10,342.17 L682.26,343.25 L684.43,344.32 L686.61,345.38 L688.78,346.44 L690.97,347.49 L693.16,348.54 L695.35,349.58 L697.55,350.61 L699.75,351.63 L701.96,352.65 L704.17,353.66 L706.38,354.67 L708.61,355.67 L710.83,356.66 L713.06,357.65 L715.30,358.63 L717.54,359.60 L719.78,360.56 L722.03,361.53 L724.29,362.48 L726.54,363.43 L728.81,364.37 L731.08,365.31 L733.35,366.23 L735.63,367.16 L737.91,368.08 L740.20,368.99 L742.49,369.89 L744.79,370.79 L747.09,371.69 L749.40,372.58" stroke="#00ff00" stroke-width="4.00" fill="none" stroke-dasharray="4.64,2.32"/>
<path d="M463.05,240.00 L464.44,241.30 L466.15,242.89 L467.86,244.48 L469.57,246.09 L471.29,247.72 L473.02,249.35 L474.74,250.98 L476.47,252.62 L478.20,254.26 L479.94,255.89 L481.68,257.50 L483.43,259.11 L485.17,260.70 L486.93,262.26 L488.68,263.80 L490.44,265.32 L492.20,266.82 L493.97,268.31 L495.74,269.80 L497.52,271.28 L499.29,272.74 L501.08,274.20 L502.86,275.64 L504.65,277.07 L506.44,278.49 L508.24,279.90 L510.04,281.29 L511.85,282.67 L513.65,284.03 L515.47,285.38 L517.28,286.70 L519.10,288.00 L520.93,289.29 L522.75,290.56 L524.59,291.81 L526.42,293.05 L528.26,294.28 L530.10,295.50 L531.95,296.72 L533.80,297.93 L535.66,299.15 L537.52,300.36 L539.38,301.58 L541.25,302.80 L543.12,304.03 L544.99,305.27 L546.87,306.50 L548.75,307.72 L550.64,308.94 L552.53,310.16 L554.43,311.37 L556.32,312.58 L558.23,313.79 L560.13,314.99 L562.04,316.18 L563.96,317.37 L565.88,318.56 L567.80,319.73 L569.73,320.91 L571.66,322.07 L573.59,323.23 L575.53,324.39 L577.48,325.53 L579.43,326.67 L581.38,327.80 L583.33,328.93 L585.29,330.04 L587.26,331.15 L589.23,332.25 L591.20,333.34 L593.17,334.42 L595.16,335.49 L597.14,336.56 L599.13,337.62 L601.12,338.67 L603.12,339.71 L605.12,340.75 L607.13,341.78 L609.14,342.81 L611.16,343.82 L613.17,344.84 L615.20,345.84 L617.23,346.84 L619.26,347.84 L621.29,348.82 L623.33,349.81 L625.38,350.78 L627.43,351.76 L629.48,352.72 L631.54,353.68 L633.60,354.64 L635.67,355.59 L637.74,356.54 L639.82,357.48 L641.89,358.42 L643.98,359.35 L646.07,360.28 L648.16,361.21 L650.26,362.14 L652.36,363.06 L654.47,363.99 L656.58,364.91 L658.69,365.84 L660.81,366.76 L662.94,367.67 L665.07,368.59 L667.20,369.50 L669.34,370.40 L671.48,371.30 L673.63,372.20 L675.78,373.09 L677.94,373.97 L680.10,374.85 L682.26,375.72 L684.43,376.58 L686.61,377.44 L688.78,378.28 L690.97,379.12 L693.16,379.95 L695.35,380.77 L697.55,381.57 L699.75,382.37 L701.96,383.15 L704.17,383.92 L706.38,384.69 L708.61,385.46 L710.83,386.21 L713.06,386.97 L715.30,387.72 L717.54,388.46 L719.78,389.20 L722.03,389.94 L724.29,390.67 L726.54,391.40 L728.81,392.12 L731.08,392.84 L733.35,393.55 L735.63,394.26 L737.91,394.97 L740.20,395.67 L742.49,396.36 L744.79,397.05 L747.09,397.74 L749.40,398.43" stroke="#000000" stroke-width="4.00" fill="none"/>
<circle cx="521.47" cy="315.00" r="5.35" fill="#ff4d00"/>
<circle cx="607.84" cy="366.62" r="5.35" fill="#ff4d00"/>
<circle cx="694.21" cy="401.52" r="5.35" fill="#ff4d00"/>
<path d="M437.60,434.80 L749.40,434.80 L749.40,240.00 L437.60,240.00 Z" stroke="#000" stroke-width="2.60" fill="none" stroke-linejoin="miter"/>
</svg>
</body></html>
